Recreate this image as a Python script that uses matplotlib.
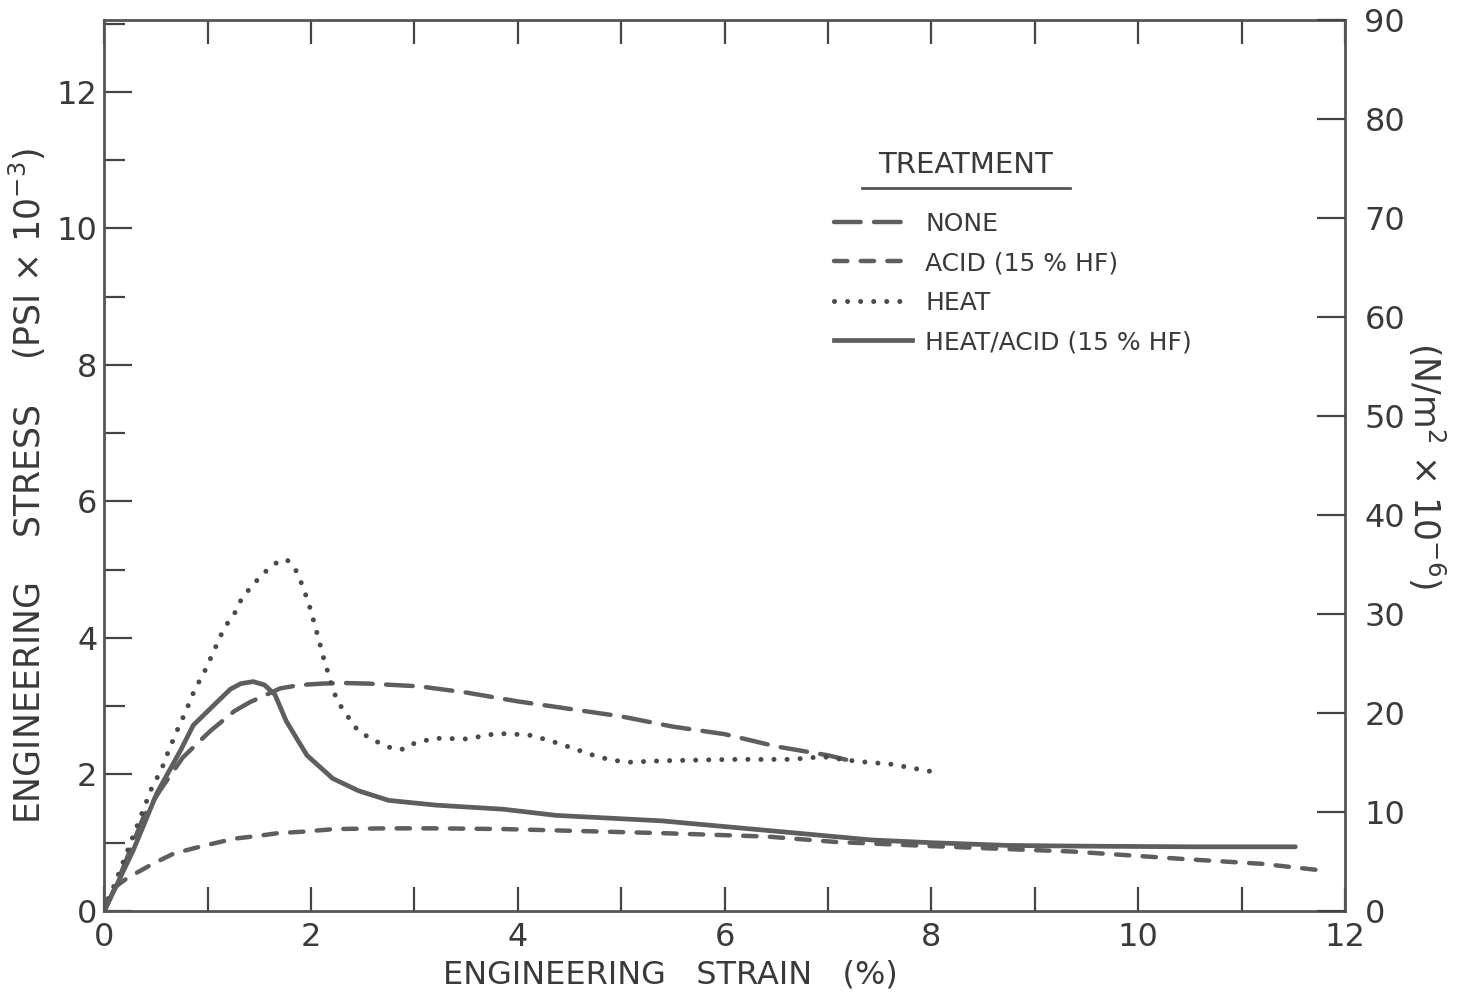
import matplotlib
matplotlib.use("Agg")
import matplotlib.pyplot as plt
from matplotlib.lines import Line2D
from matplotlib.ticker import MultipleLocator

# ---- data (strain %, stress psi x 1e-3) ----
none_x = [0, 0.12, 0.38, 0.54, 0.76, 1.02, 1.26, 1.41, 1.70, 1.89, 2.10, 2.31, 2.56, 3.05,
          3.5, 4.0, 4.5, 5.0, 5.5, 6.0, 6.5, 7.0, 7.27]
none_y = [0, 0.40, 1.38, 1.77, 2.25, 2.63, 2.93, 3.06, 3.26, 3.31, 3.33, 3.34, 3.33, 3.29,
          3.20, 3.07, 2.96, 2.85, 2.70, 2.59, 2.41, 2.28, 2.18]

acid_x = [0, 0.06, 0.22, 0.48, 0.67, 0.87, 1.06, 1.26, 1.49, 1.68, 1.91, 2.23, 2.72, 3.21,
          3.86, 4.37, 5.39, 6.41, 7.08, 8.0, 8.67, 9.37, 10.45, 11.2, 11.74]
acid_y = [0, 0.30, 0.48, 0.70, 0.84, 0.92, 0.99, 1.06, 1.10, 1.14, 1.16, 1.20, 1.21, 1.21,
          1.20, 1.18, 1.14, 1.09, 1.01, 0.95, 0.91, 0.87, 0.76, 0.69, 0.60]

heat_x = [0, 0.458, 0.555, 0.62, 0.70, 0.79, 0.86, 0.91, 0.98, 1.06, 1.14, 1.19, 1.26, 1.34,
          1.42, 1.48, 1.55, 1.63, 1.70, 1.77, 1.84, 1.88, 1.92, 1.98, 2.03, 2.07, 2.12, 2.18,
          2.21, 2.26, 2.30, 2.35, 2.40, 2.46, 2.62, 2.80, 2.90, 2.99, 3.19, 3.50, 3.80, 4.10,
          4.30, 4.50, 4.71, 4.90, 5.09, 5.39, 6.07, 6.64, 6.95, 7.29, 7.61, 8.08]
heat_y = [0, 1.80, 2.08, 2.34, 2.63, 2.93, 3.19, 3.34, 3.54, 3.81, 4.08, 4.21, 4.36, 4.61,
          4.74, 4.85, 4.96, 5.06, 5.14, 5.14, 5.03, 4.90, 4.75, 4.49, 4.22, 4.00, 3.71, 3.41,
          3.24, 3.07, 2.97, 2.86, 2.75, 2.63, 2.49, 2.37, 2.37, 2.45, 2.53, 2.52, 2.60, 2.58,
          2.50, 2.40, 2.29, 2.21, 2.18, 2.20, 2.22, 2.22, 2.26, 2.19, 2.15, 2.02]

heatacid_x = [0, 0.28, 0.51, 0.74, 0.86, 1.09, 1.22, 1.32, 1.44, 1.55, 1.65, 1.76, 1.96,
              2.21, 2.46, 2.75, 3.21, 3.86, 4.37, 5.39, 6.41, 7.42, 8.0, 8.74, 9.42, 10.5,
              11.52]
heatacid_y = [0, 0.89, 1.73, 2.36, 2.72, 3.06, 3.25, 3.33, 3.36, 3.31, 3.17, 2.78, 2.28,
              1.94, 1.76, 1.62, 1.55, 1.49, 1.40, 1.32, 1.18, 1.04, 1.00, 0.96, 0.95, 0.94,
              0.94]

labels = ["NONE", "ACID (15 % HF)", "HEAT", "HEAT/ACID (15 % HF)"]
xticks = [0, 2, 4, 6, 8, 10, 12]
yticks_left = [0, 2, 4, 6, 8, 10, 12]
yticks_right = [0, 10, 20, 30, 40, 50, 60, 70, 80, 90]
PSI_TO_MPA = 6.895

plt.rcParams['font.family'] = ['DejaVu Sans']
ink = '#3a3a3a'
lc = '#5e5e5e'
dc = '#4a4a4a'

ls_none = (0, (6, 3))
ls_acid = (0, (3, 3))
ls_heat = (0, (0.01, 2.6))

fig = plt.figure(figsize=(14.61, 9.97), dpi=100)
ax = fig.add_axes([0.0714, 0.0863, 0.8492, 0.8937])

ax.plot(none_x, none_y, color=lc, lw=3.2, linestyle=ls_none, dash_capstyle='round')
ax.plot(acid_x, acid_y, color=lc, lw=3.2, linestyle=ls_acid, dash_capstyle='round')
ax.plot(heat_x, heat_y, color=dc, lw=3.6, linestyle=ls_heat, dash_capstyle='round')
ax.plot(heatacid_x, heatacid_y, color=lc, lw=3.4, linestyle='-', solid_capstyle='round',
        solid_joinstyle='round')

ax.set_xlim(0, 12)
ax.set_ylim(0, 90 / PSI_TO_MPA)
ax.set_xticks(xticks)
ax.set_xticklabels([str(v) for v in xticks])
ax.xaxis.set_minor_locator(MultipleLocator(1))
ax.set_yticks(yticks_left)
ax.set_yticklabels([str(v) for v in yticks_left])
ax.yaxis.set_minor_locator(MultipleLocator(1))

for s in ax.spines.values():
    s.set_color('#555555')
    s.set_linewidth(2.0)

ax.tick_params(axis='both', which='both', direction='in', color='#444444', width=1.6,
               labelcolor=ink, labelsize=23)
ax.tick_params(axis='x', which='both', top=True, length=17, pad=8)
ax.tick_params(axis='y', which='major', length=20, pad=5)
ax.tick_params(axis='y', which='minor', length=15)

ax2 = ax.twinx()
ax2.set_ylim(0, 90)
ax2.set_yticks(yticks_right)
ax2.set_yticklabels([str(v) for v in yticks_right])
ax2.tick_params(axis='y', direction='in', length=20, width=1.6, color='#444444',
                labelcolor=ink, labelsize=23, pad=14)
for s in ax2.spines.values():
    s.set_visible(False)

ax.set_xlabel("ENGINEERING   STRAIN   (%)", fontsize=23, color=ink)
ax.xaxis.set_label_coords(0.456, -0.055)
ax.set_ylabel(r"ENGINEERING    STRESS    (PSI $\times$ 10$^{-3}$)", fontsize=25,
              color=ink)
ax.yaxis.set_label_coords(-0.045, 0.477)
ax2.set_ylabel(r"(N/m$^2$ $\times$ 10$^{-6}$)", fontsize=25, color=ink, rotation=-90,
               labelpad=30)

# legend
handles = [
    Line2D([], [], color=lc, lw=3.2, linestyle=ls_none, dash_capstyle='round'),
    Line2D([], [], color=lc, lw=3.2, linestyle=ls_acid, dash_capstyle='round'),
    Line2D([], [], color=dc, lw=3.6, linestyle=ls_heat, dash_capstyle='round'),
    Line2D([], [], color=lc, lw=3.4, linestyle='-'),
]
leg = ax.legend(handles, labels, loc='upper left', bbox_to_anchor=(0.57, 0.81),
                frameon=False, fontsize=18, handlelength=3.1, handletextpad=0.55,
                labelspacing=0.62, labelcolor=ink)
ax.text(0.694, 0.822, "TREATMENT", transform=ax.transAxes, fontsize=21, color=ink,
        ha='center', va='bottom')
ax.plot([0.611, 0.778], [0.811, 0.811], transform=ax.transAxes, color='#555555', lw=2.0,
        clip_on=False)

fig.savefig("out.png", dpi=100, facecolor='white')
